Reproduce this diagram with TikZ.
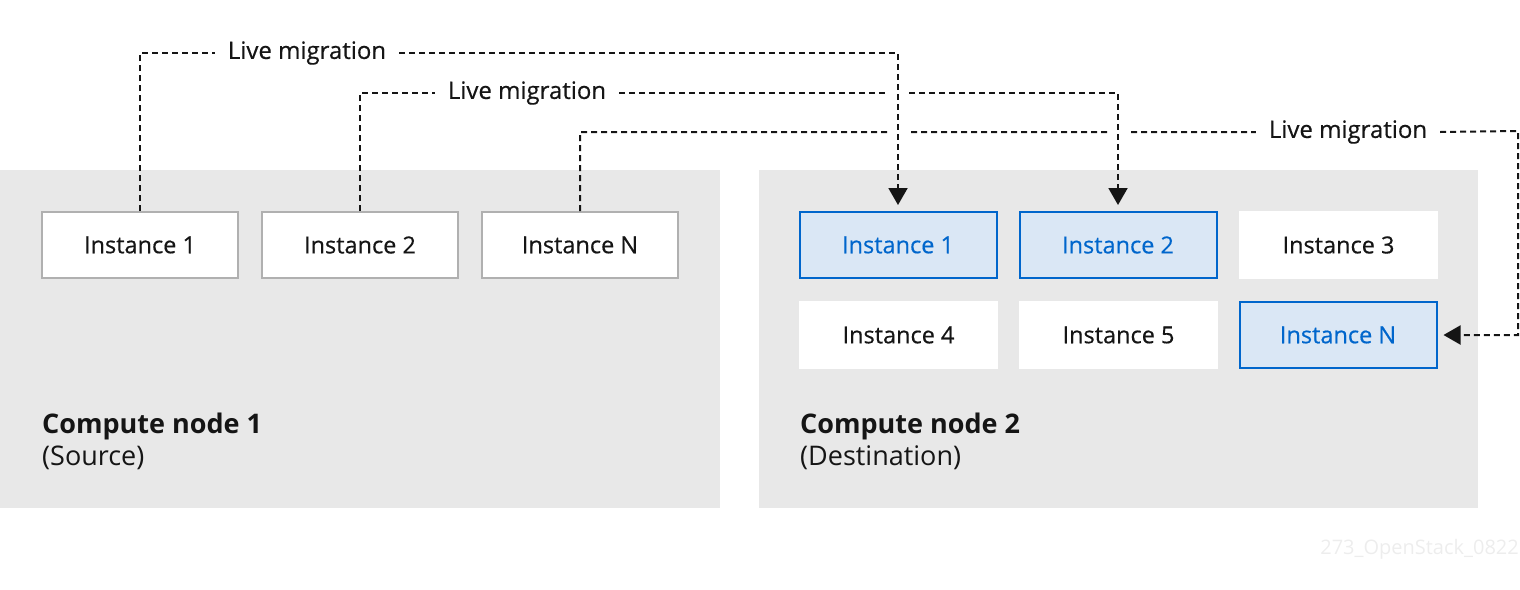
\documentclass[tikz,border=0pt]{standalone}
\usepackage{fontspec}
\setmainfont{Open Sans}
\newfontfamily\medfont[FakeBold=0.45]{Open Sans}
\usetikzlibrary{arrows.meta}
\definecolor{panelgray}{HTML}{E8E8E8}
\definecolor{txt}{HTML}{151515}
\definecolor{boxgray}{HTML}{B0B0B0}
\definecolor{rhblue}{HTML}{0066CC}
\definecolor{lightblue}{HTML}{DAE7F5}
\definecolor{wm}{HTML}{EDEDED}
\tikzset{
  panel/.style={fill=panelgray, draw=none},
  inst/.style={draw=boxgray, line width=2pt, fill=white, minimum width=196pt, minimum height=66pt, inner sep=0pt, text=txt, font=\medfont\fontsize{23.5}{26}\selectfont},
  plain/.style={fill=white, draw=none, minimum width=199pt, minimum height=68pt, inner sep=0pt, text=txt, font=\medfont\fontsize{23.5}{26}\selectfont},
  moved/.style={draw=rhblue, line width=2pt, fill=lightblue, minimum width=197pt, minimum height=66pt, inner sep=0pt, text=rhblue, font=\medfont\fontsize{23.5}{26}\selectfont},
  miglabel/.style={fill=white, inner sep=0pt, minimum height=20pt, minimum width=184pt, text=txt, font=\medfont\fontsize{24}{26}\selectfont},
  mig/.style={draw=txt, line width=2pt, dash pattern=on 6pt off 4pt, -{Triangle[length=17pt,width=19pt]}, shorten >=6pt},
  gap/.style={fill=white, draw=none},
  title/.style={anchor=north west, align=left, inner sep=0pt, text=txt, font=\fontsize{27}{32}\selectfont}
}
\begin{document}
\begin{tikzpicture}[x=1pt,y=-1pt]
\useasboundingbox (0,0) rectangle (1520,589);
% panels
\fill[panel] (0,170) rectangle (720,508);
\fill[panel] (759,170) rectangle (1478,508);
% source instances
\node[inst] (s1) at (140,245) {Instance 1};
\node[inst] (s2) at (360,245) {Instance 2};
\node[inst] (sN) at (580,245) {Instance N};
% destination instances
\node[moved] (d1) at (898,245) {Instance 1};
\node[moved] (d2) at (1118,245) {Instance 2};
\node[plain] (d3) at (1338.5,245) {Instance 3};
\node[plain] (d4) at (898.5,335) {Instance 4};
\node[plain] (d5) at (1118.5,335) {Instance 5};
\node[moved] (dN) at (1338,335) {Instance N};
% titles
\node[title] (t1) at (42,413) {\textbf{Compute node 1}\\(Source)};
\node[title] (t2) at (800,413) {\textbf{Compute node 2}\\(Destination)};
% watermark
\node[anchor=east, inner sep=0pt, text=wm, font=\fontsize{20}{22}\selectfont] (wmk) at (1519,549) {273\_OpenStack\_0822};
% connector 3
\node[miglabel] (l3) at (1348,132) {Live migration};
\coordinate (c3) at (1518,131);
\draw[mig] (sN.north) |- (l3.west) (l3.east) -- (c3) |- (dN.east);
\fill[gap] (888,127) rectangle (908,135);
\fill[gap] (1108,127) rectangle (1128,135);
% connector 2
\node[miglabel] (l2) at (527,93) {Live migration};
\draw[mig] (s2.north) |- (l2.west) (l2.east) -| (d2.north);
\fill[gap] (888,88) rectangle (908,96);
% connector 1
\node[miglabel] (l1) at (307,53) {Live migration};
\draw[mig] (s1.north) |- (l1.west) (l1.east) -| (d1.north);
\end{tikzpicture}
\end{document}
